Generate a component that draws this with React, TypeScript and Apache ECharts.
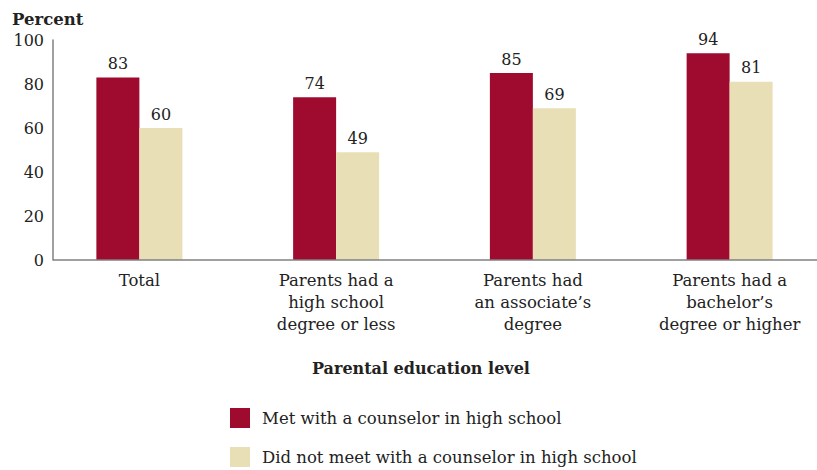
import React, { useEffect, useRef } from "react";
import * as echarts from "echarts";

const categories = [
  "Total",
  "Parents had a\nhigh school\ndegree or less",
  "Parents had\nan associate\u2019s\ndegree",
  "Parents had a\nbachelor\u2019s\ndegree or higher",
];
const metCounselor = [83, 74, 85, 94];
const didNotMeet = [60, 49, 69, 81];
const seriesNames = [
  "Met with a counselor in high school",
  "Did not meet with a counselor in high school",
];
const yTicks = { min: 0, max: 100, interval: 20 };

const FONT = "DejaVu Serif";
const RED = "#9E0B2F";
const BEIGE = "#E8DFB6";
const TEXT = "#222";

export default function App() {
  const ref = useRef<HTMLDivElement>(null);
  useEffect(() => {
    if (!ref.current) return;
    const chart = echarts.init(ref.current, null, { renderer: "svg" });
    const gridLeft = 41;
    const axisShift = 12;
    chart.setOption({
      animation: false,
      backgroundColor: "#fff",
      textStyle: { fontFamily: FONT, color: TEXT },
      title: [
        {
          text: "Percent",
          left: 12,
          top: 11,
          padding: 0,
          textStyle: { fontFamily: FONT, fontSize: 16.5, fontWeight: "bold", color: TEXT },
        },
        {
          text: "Parental education level",
          left: 312,
          top: 360,
          padding: 0,
          textStyle: { fontFamily: FONT, fontSize: 16, fontWeight: "bold", color: TEXT },
        },
      ],
      legend: {
        orient: "vertical",
        left: 230,
        top: 408,
        itemWidth: 20,
        itemHeight: 20,
        itemGap: 19,
        icon: "rect",
        padding: 0,
        textStyle: { fontFamily: FONT, fontSize: 16.5, color: TEXT, padding: [0, 0, 0, 7] },
        data: seriesNames,
      },
      grid: {
        left: gridLeft,
        width: 787,
        top: 40,
        bottom: 210,
        containLabel: false,
        outerBoundsMode: "none",
      },
      xAxis: {
        type: "category",
        data: categories,
        axisLine: { show: false },
        axisTick: { show: false },
        axisLabel: {
          fontFamily: FONT,
          fontSize: 16.5,
          color: TEXT,
          lineHeight: 22,
          margin: 9,
          interval: 0,
        },
      },
      yAxis: {
        type: "value",
        min: yTicks.min,
        max: yTicks.max,
        interval: yTicks.interval,
        offset: -axisShift,
        splitLine: { show: false },
        axisTick: { show: false },
        axisLine: { show: true, lineStyle: { color: "#808080", width: 1.5 } },
        axisLabel: { fontFamily: FONT, fontSize: 16, color: TEXT, margin: 9 },
      },
      series: [
        {
          name: seriesNames[0],
          type: "bar",
          data: metCounselor,
          barWidth: 43,
          barGap: "0%",
          itemStyle: { color: RED },
          label: { show: true, position: "top", distance: 6, fontFamily: FONT, fontSize: 16, color: TEXT },
        },
        {
          name: seriesNames[1],
          type: "bar",
          data: didNotMeet,
          barWidth: 43,
          barGap: "0%",
          itemStyle: { color: BEIGE },
          label: { show: true, position: "top", distance: 6, fontFamily: FONT, fontSize: 16, color: TEXT },
        },
      ],
    });
    const yPix = chart.convertToPixel({ yAxisIndex: 0 }, 0) as number;
    chart.setOption({
      graphic: [
        {
          type: "line",
          shape: { x1: gridLeft + axisShift, y1: yPix, x2: 817, y2: yPix },
          style: { stroke: "#808080", lineWidth: 1.5 },
          z: 10,
        },
      ],
    });
    return () => chart.dispose();
  }, []);
  return (
    <div
      ref={ref}
      style={{ position: "fixed", left: 0, top: 0, width: 817, height: 470 }}
    />
  );
}
